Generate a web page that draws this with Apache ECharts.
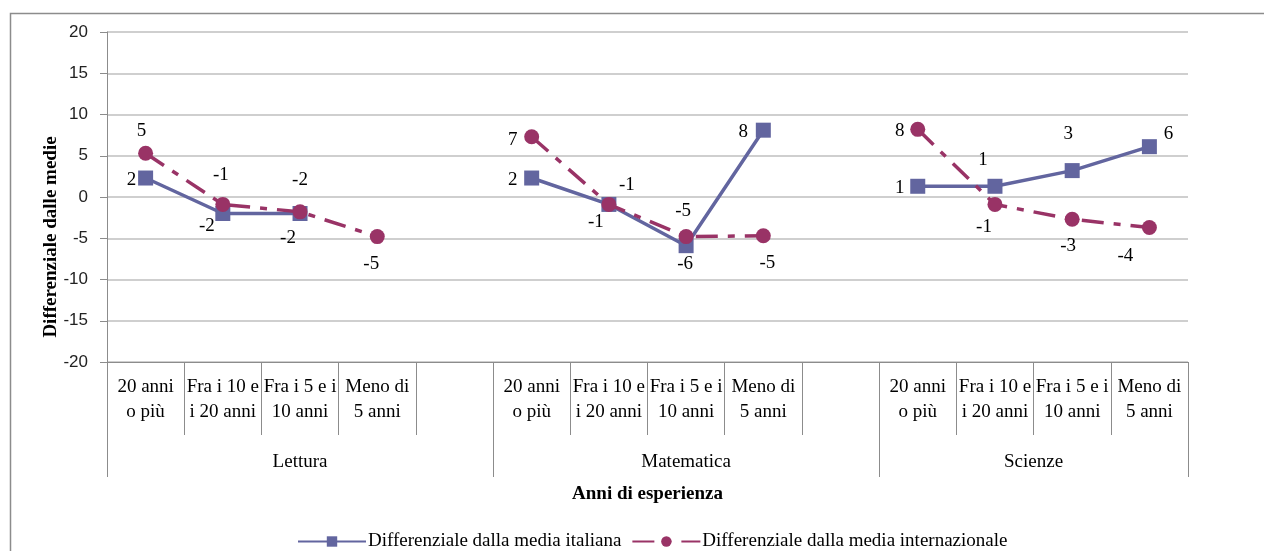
<!DOCTYPE html>
<html>
<head>
<meta charset="utf-8">
<script src="https://cdn.jsdelivr.net/npm/echarts@6/dist/echarts.min.js"></script>
<style>
html,body{margin:0;padding:0;background:#fff;}
#chart{width:1264px;height:551px;}
</style>
</head>
<body>
<div id="chart"></div>
<script>
// ---- data ----
const subjects = ['Lettura', 'Matematica', 'Scienze'];
const experience = ['20 anni\no più', 'Fra i 10 e\ni 20 anni', 'Fra i 5 e i\n10 anni', 'Meno di\n5 anni'];
const categories = [
  '20 anni\no più', 'Fra i 10 e\ni 20 anni', 'Fra i 5 e i\n10 anni', 'Meno di\n5 anni', '',
  '20 anni\no più', 'Fra i 10 e\ni 20 anni', 'Fra i 5 e i\n10 anni', 'Meno di\n5 anni', '',
  '20 anni\no più', 'Fra i 10 e\ni 20 anni', 'Fra i 5 e i\n10 anni', 'Meno di\n5 anni'
];
const seriesNames = ['Differenziale dalla media italiana', 'Differenziale dalla media internazionale'];
const italiana = [2.3, -2.0, -2.0, null, null, 2.3, -0.9, -5.9, 8.1, null, 1.3, 1.3, 3.2, 6.1];
const internazionale = [5.3, -0.9, -1.8, -4.8, null, 7.3, -0.9, -4.8, -4.7, null, 8.2, -0.9, -2.7, -3.7];
const groupTicks = [0, 5, 10, 14];
const groupLabelAt = [2.5, 7.5, 12];
const yTicks = { min: -20, max: 20, interval: 5 };

// ---- label placement (styling, not data) ----
const offIt = [[-14,2],[-16,13],[-12,25],null,null,[-19,2],[-13,18],[-1,18],[-20,2],null,[-18,2],[-12,-26],[-4,-37],[19,-13]];
const offInt = [[-4,-22],[-2,-29],[0,-32],[-6,27],null,[-19,3],[18,-19],[-3,-26],[4,27],null,[-18,2],[-11,23],[-4,27],[-24,28]];

const serif = 'Liberation Serif';
const FS = 19;
const BLUE = '#62659F';
const PURPLE = '#993366';
const GRAY = '#8C8C8C';

function build(vals, offs) {
  return vals.map((v, i) => v === null ? null : {
    value: v,
    label: { offset: offs[i] || [0, 0] }
  });
}
const labelBase = {
  show: true, position: 'inside',
  fontFamily: serif, fontSize: FS, color: '#000',
  formatter: p => String(Math.round(p.value))
};

const chart = echarts.init(document.getElementById('chart'), null, { renderer: 'canvas' });
chart.setOption({
  animation: false,
  backgroundColor: '#fff',
  grid: { left: 107, right: 76, top: 32, height: 330 },
  legend: {
    top: 527, left: 292,
    itemWidth: 68, itemHeight: 13, itemGap: 10,
    textStyle: { fontFamily: serif, fontSize: FS, color: '#000', padding: [0, 0, 0, -3] },
    data: seriesNames
  },
  xAxis: [
    {
      type: 'category', data: categories, boundaryGap: true,
      axisLine: { show: true, onZero: false, lineStyle: { color: GRAY, width: 1 } },
      axisTick: { show: true, interval: 0, length: 73, lineStyle: { color: GRAY } },
      axisLabel: { interval: 0, margin: 13, fontFamily: serif, fontSize: FS, lineHeight: 25, color: '#000' },
      splitLine: { show: false }
    },
    {
      type: 'value', min: 0, max: 14, position: 'bottom',
      name: 'Anni di esperienza', nameLocation: 'middle', nameGap: 123,
      nameTextStyle: { fontFamily: serif, fontSize: FS, fontWeight: 'bold', color: '#000' },
      axisLine: { show: false, onZero: false },
      axisTick: { show: true, customValues: groupTicks, length: 115, lineStyle: { color: GRAY } },
      axisLabel: {
        customValues: groupLabelAt, margin: 91,
        fontFamily: serif, fontSize: FS, color: '#000',
        formatter: v => subjects[groupLabelAt.indexOf(v)] || ''
      },
      splitLine: { show: false }
    }
  ],
  yAxis: {
    type: 'value', min: yTicks.min, max: yTicks.max, interval: yTicks.interval,
    axisLine: { show: true, onZero: false, lineStyle: { color: GRAY } },
    axisTick: { show: true, length: 7, lineStyle: { color: GRAY } },
    axisLabel: { margin: 19, fontFamily: 'Liberation Sans', fontSize: 17, color: '#222' },
    splitLine: { show: true, lineStyle: { color: '#BFBFBF', width: 1.5 } }
  },
  graphic: [
    {
      type: 'rect', silent: true,
      shape: { x: 10.5, y: 13.5, width: 1400, height: 700 },
      style: { fill: 'none', stroke: GRAY, lineWidth: 1.5 }
    },
    {
      type: 'text', x: 51, y: 237, rotation: Math.PI / 2,
      style: {
        text: 'Differenziale dalle medie', align: 'center', verticalAlign: 'middle',
        font: 'bold 19px "Liberation Serif"', fill: '#000'
      }
    }
  ],
  series: [
    {
      name: seriesNames[0], type: 'line', xAxisIndex: 0,
      data: build(italiana, offIt),
      symbol: 'rect', symbolSize: 15,
      itemStyle: { color: BLUE },
      lineStyle: { color: BLUE, width: 3.5 },
      label: labelBase, connectNulls: false, z: 2
    },
    {
      name: seriesNames[1], type: 'line', xAxisIndex: 0,
      data: build(internazionale, offInt),
      symbol: 'circle', symbolSize: 15,
      itemStyle: { color: PURPLE },
      lineStyle: { color: PURPLE, width: 3.5, type: [22, 10, 7, 10] },
      label: labelBase, connectNulls: false, z: 3
    }
  ]
});
</script>
</body>
</html>
